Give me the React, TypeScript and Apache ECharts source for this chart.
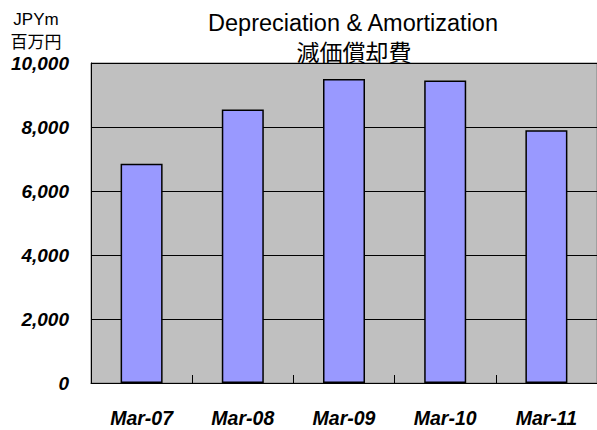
import React, { useEffect, useRef } from "react";
import * as echarts from "echarts";

const categories = ["Mar-07", "Mar-08", "Mar-09", "Mar-10", "Mar-11"];
const values = [6850, 8550, 9500, 9450, 7900];
const titleLine1 = "Depreciation & Amortization";
const titleLine2 = "減価償却費";
const unitLine1 = "JPYm";
const unitLine2 = "百万円";

const FONT = "'Liberation Sans', Arial, 'Noto Sans CJK JP', sans-serif";

export default function App() {
  const ref = useRef<HTMLDivElement>(null);
  useEffect(() => {
    const chart = echarts.init(ref.current!, null, { renderer: "svg" });
    const t = (text: string, left: number, top: number, size: number) => ({
      text,
      left,
      top,
      padding: 0,
      textAlign: "center",
      textStyle: {
        fontFamily: FONT,
        fontSize: size,
        fontWeight: "normal",
        color: "#000",
        lineHeight: size,
      },
    });
    chart.setOption({
      animation: false,
      backgroundColor: "#ffffff",
      title: [
        t(titleLine1, 353, 11, 23.5),
        t(titleLine2, 354, 41, 23),
        t(unitLine1, 36, 11, 17),
        t(unitLine2, 36, 34, 17),
      ],
      grid: {
        left: 91,
        top: 63,
        width: 515,
        height: 320,
        show: true,
        backgroundColor: "#c0c0c0",
        borderColor: "#808080",
        borderWidth: 1,
      },
      xAxis: {
        type: "category",
        data: categories,
        axisLine: { show: true, lineStyle: { color: "#000", width: 1 } },
        axisTick: {
          show: true,
          inside: true,
          length: 8,
          lineStyle: { color: "#000" },
        },
        axisLabel: {
          margin: 25,
          fontFamily: FONT,
          fontSize: 19.5,
          fontWeight: "bold",
          fontStyle: "italic",
          color: "#000",
        },
      },
      yAxis: {
        type: "value",
        min: 0,
        max: 10000,
        interval: 2000,
        axisLine: { show: true, lineStyle: { color: "#000", width: 1 } },
        axisTick: { show: false },
        splitLine: { show: true, lineStyle: { color: "#000", width: 1 } },
        axisLabel: {
          margin: 22,
          fontFamily: FONT,
          fontSize: 19,
          fontWeight: "bold",
          fontStyle: "italic",
          color: "#000",
          formatter: (v: number) => v.toLocaleString("en-US"),
        },
      },
      series: [
        {
          type: "bar",
          data: values,
          barWidth: 42,
          itemStyle: {
            color: "#9999ff",
            borderColor: "#000",
            borderWidth: 1.5,
          },
        },
      ],
    });
    return () => chart.dispose();
  }, []);
  return <div ref={ref} style={{ width: 597, height: 430, position: "absolute", left: 0, top: 0 }} />;
}
